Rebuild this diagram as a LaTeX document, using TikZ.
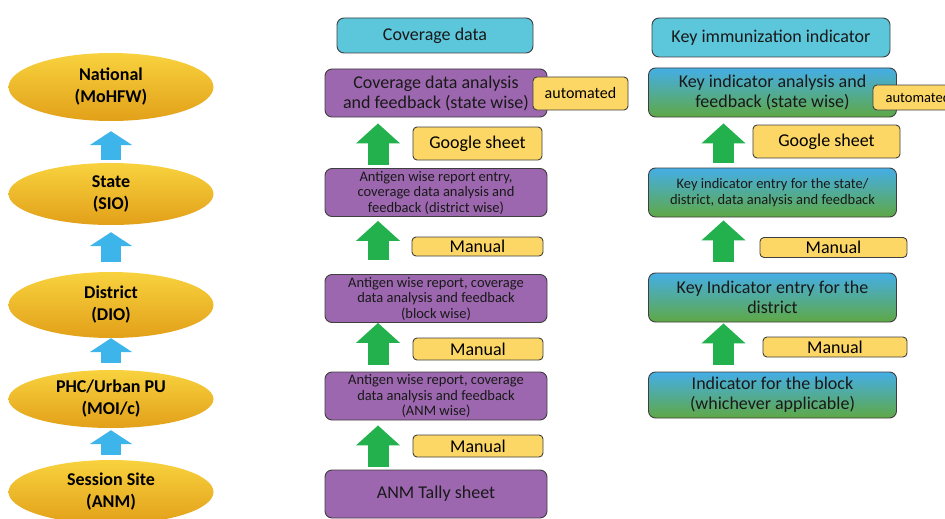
\documentclass[tikz,border=0pt]{standalone}
\usepackage{fontspec}
\setmainfont{Carlito}
\usetikzlibrary{arrows.meta,shapes.geometric}
\definecolor{goldtop}{HTML}{F8D23E}
\definecolor{goldbot}{HTML}{E2A019}
\definecolor{skyarr}{HTML}{3DB4EA}
\definecolor{grnarr}{HTML}{22B14C}
\definecolor{purp}{HTML}{9C67AE}
\definecolor{cyanbox}{HTML}{5CC6DA}
\definecolor{tagyel}{HTML}{FDD766}
\definecolor{edge}{HTML}{3F3F3F}
\definecolor{kblue}{HTML}{45AEE6}
\definecolor{kmid}{HTML}{BCDCD6}
\definecolor{kgreen}{HTML}{5FA845}
\newcommand{\bigtxt}{\fontsize{18}{20}\selectfont}
\newcommand{\smalltxt}{\fontsize{14.5}{15.5}\selectfont}
\tikzset{
  lvl/.style={ellipse, top color=goldtop, bottom color=goldbot, minimum width=205pt, inner sep=0pt, align=center, text=black, font=\fontsize{18}{22}\selectfont\bfseries},
  cbox/.style={draw=edge, line width=0.9pt, rounded corners=7pt, fill=purp, minimum width=222pt, minimum height=48pt, inner sep=1pt, align=center, text=black!90},
  kbox/.style={draw=edge, line width=0.9pt, rounded corners=7pt, top color=kblue, middle color=kmid, bottom color=kgreen, minimum width=248pt, minimum height=49pt, inner sep=1pt, align=center, text=black!90, font=\bigtxt},
  head/.style={draw=edge, line width=0.9pt, rounded corners=7pt, fill=cyanbox, inner sep=1pt, align=center, text=black!90, font=\bigtxt},
  tag/.style={draw=edge, line width=0.9pt, rounded corners=4pt, fill=tagyel, inner sep=1pt, align=center, text=black},
  barr/.style={skyarr, line width=20pt, -{Triangle[width=42pt,length=14pt]}},
  garr/.style={grnarr, line width=21pt, -{Triangle[width=43pt,length=20pt]}},
}
\begin{document}
\begin{tikzpicture}[x=1pt, y=-1pt]
\useasboundingbox (0,0) rectangle (945,519);
\clip (0,0) rectangle (945,519);
% levels
\node[lvl, minimum height=68pt] (nat) at (111,87) {National\\(MoHFW)};
\node[lvl, minimum height=62pt] (st) at (111,194) {State\\(SIO)};
\node[lvl, minimum height=66pt] (dis) at (111,305) {District\\(DIO)};
\node[lvl, minimum height=58pt] (phc) at (111,399) {PHC/Urban PU\\(MOI/c)};
\node[lvl, minimum height=64pt] (ses) at (111,492) {Session Site\\(ANM)};
\draw[barr, shorten <=3pt, shorten >=10pt] (st.north) -- (nat.south);
\draw[barr, shorten <=10pt, shorten >=7pt] (dis.north) -- (st.south);
\draw[barr, shorten <=7pt, shorten >=0pt] (phc.north) -- (dis.south);
\draw[barr, shorten <=5pt, shorten >=2pt] (ses.north) -- (phc.south);
% coverage data
\node[head, minimum width=196pt, minimum height=35pt] (cov) at (435,35.5) {Coverage data};
\node[cbox, font=\bigtxt] (c1) at (436,93) {Coverage data analysis\\and feedback (state wise)};
\node[cbox, font=\smalltxt] (c2) at (436,192.5) {Antigen wise report entry,\\coverage data analysis and\\feedback (district wise)};
\node[cbox, font=\smalltxt] (c3) at (436,298.5) {Antigen wise report, coverage\\data analysis and feedback\\(block wise)};
\node[cbox, font=\smalltxt] (c4) at (436,396) {Antigen wise report, coverage\\data analysis and feedback\\(ANM wise)};
\node[cbox, font=\bigtxt] (c5) at (436,494) {ANM Tally sheet};
\draw[garr, shorten <=3pt, shorten >=6pt] ([xshift=-58pt]c2.north) -- ([xshift=-58pt]c1.south);
\draw[garr, shorten <=14pt, shorten >=4pt] ([xshift=-58pt]c3.north) -- ([xshift=-58pt]c2.south);
\draw[garr, shorten <=7pt, shorten >=0pt] ([xshift=-58pt]c4.north) -- ([xshift=-58pt]c3.south);
\draw[garr, shorten <=3pt, shorten >=5pt] ([xshift=-58pt]c5.north) -- ([xshift=-58pt]c4.south);
\node[tag, minimum width=95pt, minimum height=33pt, font=\fontsize{16}{18}\selectfont] (auto1) at (580.5,93.5) {automated};
\node[tag, minimum width=129pt, minimum height=33pt, font=\bigtxt] (gs1) at (477.5,143.5) {Google sheet};
\node[tag, minimum width=131pt, minimum height=19pt, font=\bigtxt] (man1) at (477.5,246.5) {Manual};
\node[tag, minimum width=130pt, minimum height=22pt, font=\bigtxt] (man2) at (478,349) {Manual};
\node[tag, minimum width=130pt, minimum height=22pt, font=\bigtxt] (man3) at (478,446) {Manual};
% key indicators
\node[head, minimum width=238pt, minimum height=39pt] (key) at (771,37.5) {Key immunization indicator};
\node[kbox] (k1) at (772.5,92.5) {Key indicator analysis and\\feedback (state wise)};
\node[kbox, font=\smalltxt] (k2) at (772.5,192.5) {Key indicator entry for the state/\\district, data analysis and feedback};
\node[kbox] (k3) at (772.5,297.5) {Key Indicator entry for the\\district};
\node[kbox, minimum height=46pt] (k4) at (772.5,395) {Indicator for the block\\(whichever applicable)};
\draw[garr, shorten <=5pt, shorten >=6pt] ([xshift=-49pt]k2.north) -- ([xshift=-49pt]k1.south);
\draw[garr, shorten <=11pt, shorten >=3pt] ([xshift=-49pt]k3.north) -- ([xshift=-49pt]k2.south);
\draw[garr, shorten <=7pt, shorten >=1pt] ([xshift=-49pt]k4.north) -- ([xshift=-49pt]k3.south);
\node[tag, minimum width=90pt, minimum height=25pt, font=\smalltxt] (auto2) at (918,97.5) {automated};
\node[tag, minimum width=147pt, minimum height=33pt, font=\bigtxt] (gs2) at (826.5,141.5) {Google sheet};
\node[tag, minimum width=147pt, minimum height=20pt, font=\bigtxt] (man4) at (833.5,247.5) {Manual};
\node[tag, minimum width=144pt, minimum height=20pt, font=\bigtxt] (man5) at (835,347) {Manual};
\end{tikzpicture}
\end{document}
